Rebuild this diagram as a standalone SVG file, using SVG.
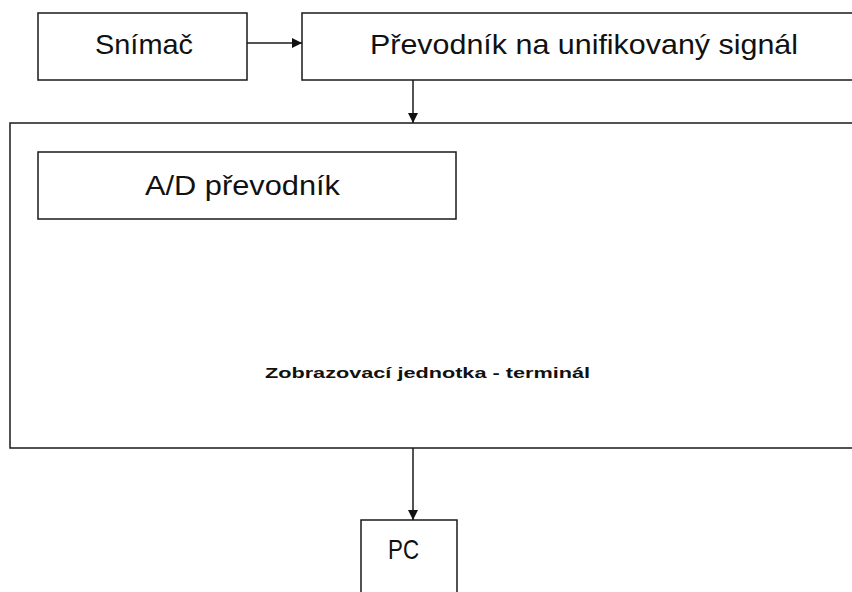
<svg xmlns="http://www.w3.org/2000/svg" width="852" height="592" viewBox="0 0 852 592">
<style>
.box{fill:#fff;stroke:#1a1a1a;stroke-width:1.5}
.big{font-family:"Liberation Sans",Arial,sans-serif;font-size:28px;fill:#111}
.small{font-family:"Liberation Sans",Arial,sans-serif;font-size:14px;font-weight:bold;fill:#111}
.conn{stroke:#1a1a1a;stroke-width:1.5;fill:none;marker-end:url(#ah)}
</style>
<defs>
<marker id="ah" viewBox="0 0 10 10" refX="10" refY="5" markerWidth="11" markerHeight="10" markerUnits="userSpaceOnUse" orient="auto">
<path d="M0,0 L10,5 L0,10 Z" fill="#111"/>
</marker>
</defs>
<rect width="852" height="592" fill="#fff"/>
<g id="terminal">
<rect class="box" x="10" y="123" width="860" height="325"/>
<text class="small" x="265" y="378" textLength="325" lengthAdjust="spacingAndGlyphs">Zobrazovací jednotka - terminál</text>
</g>
<g id="snimac">
<rect class="box" x="38" y="13" width="209" height="67"/>
<text class="big" x="95" y="54" textLength="98" lengthAdjust="spacingAndGlyphs">Snímač</text>
</g>
<g id="prevodnik">
<rect class="box" x="302" y="13" width="570" height="67"/>
<text class="big" x="370" y="54" textLength="428" lengthAdjust="spacingAndGlyphs">Převodník na unifikovaný signál</text>
</g>
<g id="ad">
<rect class="box" x="38" y="152" width="418" height="67"/>
<text class="big" x="145" y="195" textLength="195" lengthAdjust="spacingAndGlyphs">A/D převodník</text>
</g>
<g id="pc">
<rect class="box" x="361" y="520" width="96" height="90"/>
<text class="big" x="388" y="559" textLength="31" lengthAdjust="spacingAndGlyphs">PC</text>
</g>
<g id="connectors">
<line class="conn" x1="247" y1="43" x2="302" y2="43"/>
<line class="conn" x1="413" y1="80" x2="413" y2="123"/>
<line class="conn" x1="413" y1="448" x2="413" y2="520"/>
</g>
</svg>
